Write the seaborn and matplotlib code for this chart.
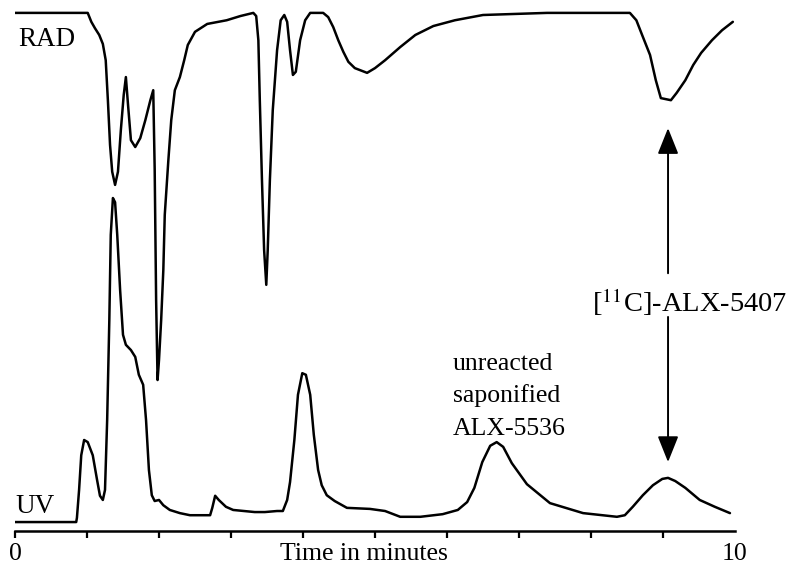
import numpy as np
import pandas as pd
import matplotlib
matplotlib.use("Agg")
import matplotlib.pyplot as plt
import seaborn as sns

# UV trace (time in minutes, detector signal, arbitrary units)
uv_time = [0.00, 0.85, 0.86, 0.89, 0.92, 0.96, 1.01, 1.08, 1.14, 1.18, 1.22, 1.25, 1.28,
           1.31, 1.33, 1.36, 1.39, 1.42, 1.46, 1.50, 1.54, 1.61, 1.67, 1.72, 1.78, 1.82,
           1.86, 1.90, 1.94, 2.00, 2.06, 2.15, 2.29, 2.43, 2.71, 2.74, 2.78, 2.83, 2.93,
           3.03, 3.33, 3.47, 3.64, 3.72, 3.78, 3.82, 3.88, 3.93, 3.99, 4.04, 4.10, 4.15,
           4.21, 4.26, 4.33, 4.44, 4.61, 4.93, 5.14, 5.35, 5.63, 5.94, 6.15, 6.28, 6.38,
           6.49, 6.60, 6.69, 6.78, 6.90, 7.11, 7.43, 7.89, 8.36, 8.47, 8.58, 8.72, 8.86,
           8.99, 9.07, 9.17, 9.31, 9.51, 9.72, 9.93]
uv_signal = [1.7, 1.7, 2.5, 7.8, 14.4, 17.3, 16.9, 14.4, 9.7, 6.7, 5.9, 7.8, 21.1,
             40.1, 56.3, 63.3, 62.5, 56.3, 45.8, 37.3, 35.4, 34.4, 33.1, 29.7, 27.8, 21.1,
             11.6, 6.8, 5.7, 5.9, 4.9, 4.0, 3.4, 3.0, 3.0, 4.4, 6.7, 5.9, 4.6,
             4.0, 3.6, 3.6, 3.8, 3.8, 5.9, 9.3, 17.3, 25.9, 30.0, 29.7, 25.9, 18.3,
             11.6, 8.7, 6.8, 5.7, 4.4, 4.2, 3.8, 2.7, 2.7, 3.2, 4.0, 5.5, 8.2,
             13.1, 16.2, 16.9, 16.0, 12.9, 8.9, 5.3, 3.4, 2.7, 3.0, 4.6, 6.8, 8.7,
             9.9, 10.1, 9.5, 8.2, 5.9, 4.6, 3.4]

# RAD trace (inverted peaks)
rad_time = [0.00, 1.01, 1.06, 1.11, 1.17, 1.22, 1.26, 1.29, 1.32, 1.35, 1.39, 1.43, 1.47,
            1.51, 1.54, 1.57, 1.61, 1.67, 1.74, 1.81, 1.88, 1.92, 1.94, 1.96, 1.98, 2.00,
            2.03, 2.06, 2.08, 2.13, 2.17, 2.22, 2.29, 2.35, 2.40, 2.50, 2.67, 2.94, 3.13,
            3.31, 3.35, 3.38, 3.40, 3.43, 3.46, 3.49, 3.51, 3.54, 3.58, 3.64, 3.69, 3.74,
            3.78, 3.82, 3.86, 3.90, 3.96, 4.03, 4.10, 4.28, 4.35, 4.42, 4.49, 4.56, 4.63,
            4.72, 4.89, 5.00, 5.14, 5.35, 5.56, 5.81, 6.11, 6.50, 7.39, 8.54, 8.63, 8.71,
            8.82, 8.90, 8.97, 9.04, 9.11, 9.19, 9.31, 9.42, 9.53, 9.68, 9.82, 9.97]
rad_signal = [98.5, 98.5, 96.8, 95.6, 94.3, 92.6, 89.5, 81.9, 73.4, 68.3, 65.8, 68.3, 76.2,
              82.9, 86.3, 81.0, 74.3, 73.0, 74.7, 78.1, 81.9, 83.8, 68.8, 43.9, 28.7, 32.5,
              40.1, 49.6, 60.1, 70.5, 78.1, 83.8, 86.3, 89.5, 92.4, 94.9, 96.4, 97.1, 97.9,
              98.5, 97.9, 93.3, 81.9, 66.7, 53.4, 46.8, 53.4, 66.7, 80.0, 91.4, 97.1, 98.1,
              96.8, 91.4, 86.7, 87.3, 93.3, 97.1, 98.5, 98.5, 97.7, 95.8, 93.3, 91.1, 89.2,
              88.0, 87.1, 88.0, 89.5, 92.0, 94.3, 96.0, 97.1, 98.1, 98.5, 98.5, 97.1, 94.3,
              90.5, 85.7, 82.3, 82.1, 81.9, 83.3, 85.7, 88.6, 90.9, 93.3, 95.2, 96.8]

peak_label_lines = ["unreacted", "saponified", "ALX-5536"]
product_label = r"[$^{11}$C]-ALX-5407"

sns.set_style("white")
plt.rcParams["font.family"] = ["Liberation Serif", "DejaVu Serif"]
plt.rcParams["mathtext.fontset"] = "stix"
plt.rcParams["text.color"] = "black"
plt.rcParams["xtick.color"] = "black"
fs = 18.5

fig = plt.figure(figsize=(7.92, 5.67), dpi=100)
ax = fig.add_axes([15 / 792, 36 / 567, 720 / 792, 526 / 567])

uv = pd.DataFrame({"t": uv_time, "s": uv_signal})
rad = pd.DataFrame({"t": rad_time, "s": rad_signal})
sns.lineplot(data=uv, x="t", y="s", color="black", linewidth=1.8,
             estimator=None, sort=False, ax=ax)
sns.lineplot(data=rad, x="t", y="s", color="black", linewidth=1.8,
             estimator=None, sort=False, ax=ax)

ax.set_xlim(0, 10)
ax.set_ylim(0, 100)
ax.set_xlabel("")
ax.set_ylabel("")
ax.set_yticks([])
for side in ["top", "left", "right"]:
    ax.spines[side].set_visible(False)
ax.spines["bottom"].set_linewidth(1.8)
ax.spines["bottom"].set_color("black")

ax.set_xticks(range(11))
ax.set_xticklabels(["0"] + [""] * 9 + ["10"], fontsize=fs)
ax.tick_params(axis="x", bottom=True, direction="out", length=5, width=1.6, pad=3.8,
               color="black", labelcolor="black")
ax.xaxis.get_major_ticks()[-1].tick1line.set_visible(False)
ax.text(4.85, -5.5, "Time in minutes", fontsize=fs, ha="center", va="baseline", clip_on=False)

# trace labels
ax.text(0.04, 92.2, "RAD", fontsize=19.5, ha="left", va="baseline")
ax.text(0.0, 3.4, "UV", fontsize=19.5, ha="left", va="baseline")

# peak annotations
for i, line in enumerate(peak_label_lines):
    ax.text(6.08, 30.6 - i * 6.15, line, fontsize=fs, ha="left", va="baseline")

ax.text(8.02, 41.6, product_label, fontsize=20.5, ha="left", va="baseline", clip_on=False)
arrow_style = dict(arrowstyle="-|>,head_length=0.8,head_width=0.32", color="black",
                   lw=1.4, mutation_scale=20, shrinkA=0, shrinkB=0)
ax.annotate("", xy=(9.07, 76.6), xytext=(9.07, 49.0), arrowprops=arrow_style)
ax.annotate("", xy=(9.07, 13.1), xytext=(9.07, 40.7), arrowprops=arrow_style)

fig.savefig("out.png", dpi=100)
